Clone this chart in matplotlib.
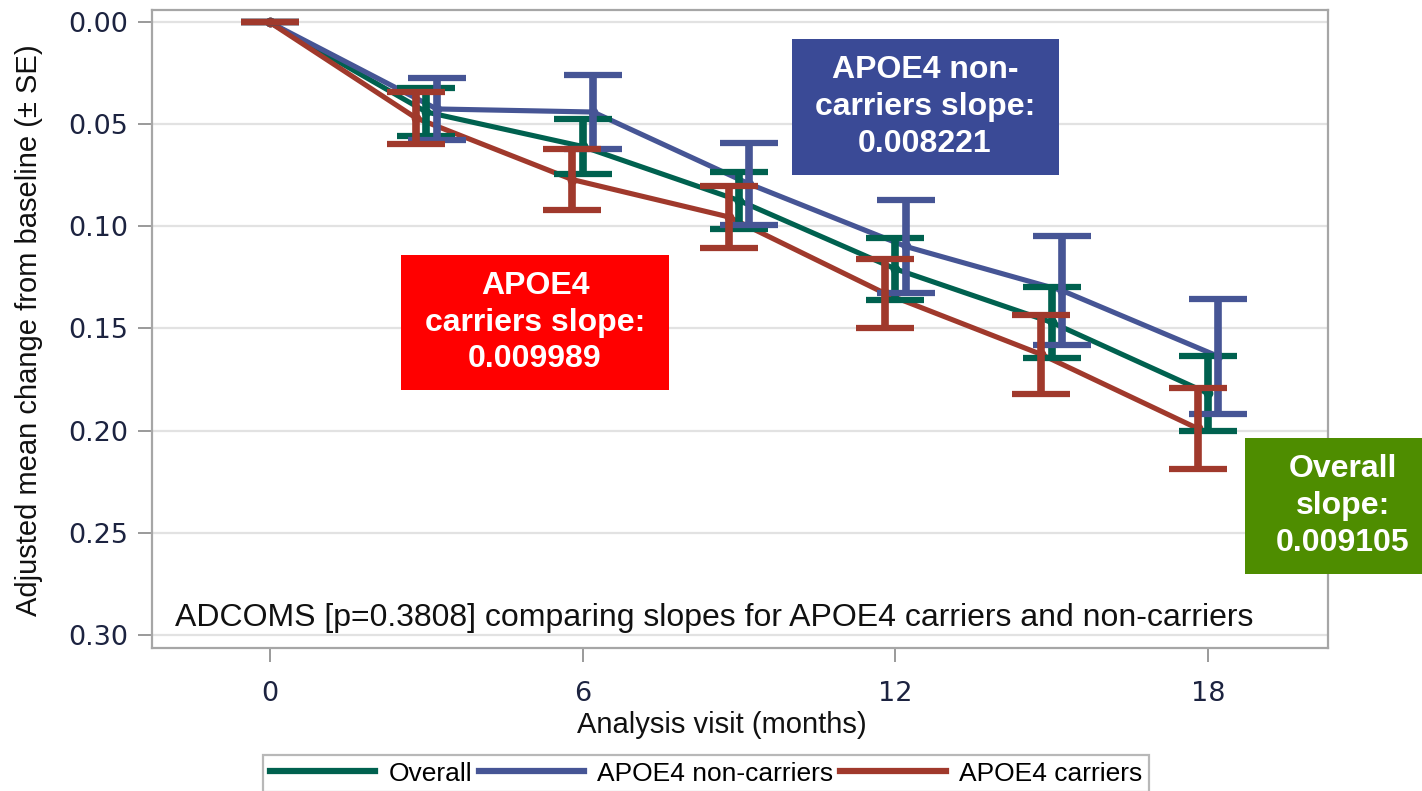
import matplotlib
matplotlib.use("Agg")
import matplotlib.pyplot as plt
from matplotlib.patches import Rectangle
from matplotlib.lines import Line2D

# ---------------- data ----------------
months = [0, 3, 6, 9, 12, 15, 18]
overall_mean = [0.0, 0.0439, 0.0608, 0.0873, 0.1208, 0.1470, 0.1818]
overall_se = [0.0, 0.0120, 0.0135, 0.0140, 0.0152, 0.0174, 0.0183]
noncarrier_mean = [0.0, 0.0424, 0.0439, 0.0792, 0.1098, 0.1314, 0.1637]
noncarrier_se = [0.0, 0.0150, 0.0182, 0.0201, 0.0228, 0.0267, 0.0282]
carrier_mean = [0.0, 0.0468, 0.0770, 0.0953, 0.1328, 0.1627, 0.1990]
carrier_se = [0.0, 0.0128, 0.0150, 0.0152, 0.0169, 0.0193, 0.0199]

series_names = ["Overall", "APOE4 non-carriers", "APOE4 carriers"]
x_ticks = [0, 6, 12, 18]
y_ticks = [0.00, 0.05, 0.10, 0.15, 0.20, 0.25, 0.30]
y_tick_labels = ["0.00", "0.05", "0.10", "0.15", "0.20", "0.25", "0.30"]

box_texts = ["APOE4 non-\ncarriers slope:\n0.008221",
             "APOE4\ncarriers slope:\n0.009989",
             "Overall\nslope:\n0.009105"]
note_text = "ADCOMS [p=0.3808] comparing slopes for APOE4 carriers and non-carriers"

# ---------------- style ----------------
W, H = 1422, 791
DPI = 100
GREEN = "#00614F"
BLUE = "#465595"
RED = "#A0392C"
ARIAL = ["Liberation Sans", "DejaVu Sans"]

fig = plt.figure(figsize=(W / DPI, H / DPI), dpi=DPI)
ax = fig.add_axes([152 / W, 1 - 648 / H, (1328 - 152) / W, (648 - 10) / H])

offsets = [0.0, 0.2, -0.2]   # horizontal dodge of the groups (not at baseline)
means = [overall_mean, noncarrier_mean, carrier_mean]
ses = [overall_se, noncarrier_se, carrier_se]
colors = [GREEN, BLUE, RED]

def dodge(i):
    return [v + (offsets[i] if v > 0 else 0.0) for v in months]

for i, (m, c) in enumerate(zip(means, colors)):
    ax.plot(dodge(i), m, color=c, lw=3.7, zorder=3 + i * 0.1,
            marker="o", ms=6, solid_capstyle="butt")
for i, (m, s, c) in enumerate(zip(means, ses, colors)):
    ax.errorbar(dodge(i), m, yerr=s, fmt="none", ecolor=c, elinewidth=5.5,
                capsize=21, capthick=4.5, zorder=5 + i * 0.1)

ax.set_xlim((152 - 270) / 52.11, (1328 - 270) / 52.11)
ax.set_ylim(0.3066, -0.0061)
ax.set_xticks(x_ticks)
ax.set_xticklabels([str(t) for t in x_ticks])
ax.set_yticks(y_ticks)
ax.set_yticklabels(y_tick_labels)
ax.grid(axis="y", color="#E2E2E2", lw=1.6)
ax.set_axisbelow(True)
for sp in ax.spines.values():
    sp.set_color("#A6A6A6")
    sp.set_linewidth(1.6)
ax.tick_params(axis="both", colors="#9A9A9A", length=10, width=1.4,
               labelsize=19.5, labelcolor="#1C2340")
ax.tick_params(axis="y", pad=7)
ax.tick_params(axis="x", pad=14)
for lab in ax.get_xticklabels() + ax.get_yticklabels():
    lab.set_fontfamily("DejaVu Sans")

# axis labels
fig.text(29 / W, 1 - 330 / H, "Adjusted mean change from baseline (± SE)",
         rotation=90, ha="center", va="center", fontsize=21,
         family=ARIAL, color="#111111")
fig.text(722 / W, 1 - 725 / H, "Analysis visit (months)", ha="center",
         va="center", fontsize=21, family=ARIAL, color="#111111")

# note
fig.text(175 / W, 1 - 618 / H, note_text, ha="left", va="center",
         fontsize=23, family=ARIAL, color="#111111")

# coloured boxes
boxes = [((792, 39, 1059, 175), "#3A4A96", 925),
         ((401, 255, 669, 390), "#FF0000", 535),
         ((1245, 438, 1440, 574), "#4E8D00", 1343)]
for (x0, y0, x1, y1), col, cx in boxes:
    fig.patches.append(Rectangle((x0 / W, 1 - y1 / H), (x1 - x0) / W,
                                 (y1 - y0) / H, transform=fig.transFigure,
                                 facecolor=col, edgecolor="none", zorder=10))
for ((x0, y0, x1, y1), col, cx), txt in zip(boxes, box_texts):
    fig.text(cx / W, 1 - (y0 + y1) / 2 / H, txt, ha="center", va="center",
             fontsize=23, fontweight="bold", family=ARIAL, color="white",
             linespacing=1.3, zorder=11)

# legend
handles = [Line2D([], [], color=c, lw=4.5) for c in colors]
leg = fig.legend(handles, series_names, loc="upper left",
                 bbox_to_anchor=(263 / W, 1 - 755 / H), ncol=3,
                 prop={"family": ARIAL, "size": 19}, frameon=True,
                 fancybox=False, edgecolor="#A6A6A6", handlelength=4.0,
                 handletextpad=0.5, columnspacing=0.25, borderpad=0.25,
                 borderaxespad=0)
leg.get_frame().set_linewidth(1.6)

fig.savefig("out.png", dpi=DPI)
